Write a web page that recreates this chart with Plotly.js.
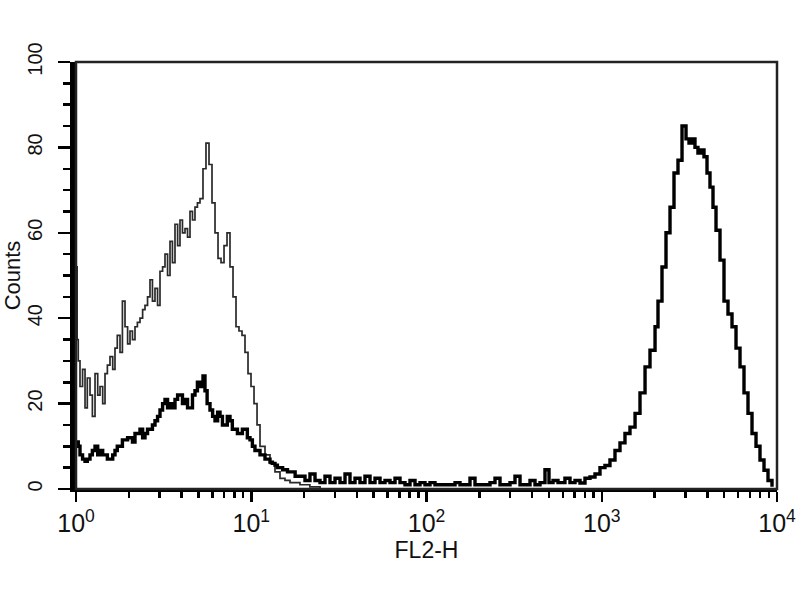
<!DOCTYPE html>
<html>
<head>
<meta charset="utf-8">
<script src="https://cdn.plot.ly/plotly-3.0.1.min.js"></script>
<style>html,body{margin:0;padding:0;background:#fff;}#chart{width:800px;height:600px;}</style>
</head>
<body>
<div id="chart"></div>
<script>
// FL2-H values (x) and counts (y) for the isotype control (thin line)
const isoX = [1.00,1.015,1.03,1.054,1.09,1.126,1.16,1.202,1.24,1.284,1.33,1.371,1.42,1.464,1.51,1.563,1.62,1.669,1.72,1.783,1.84,1.904,1.97,2.033,2.10,2.171,2.24,2.318,2.40,2.476,2.56,2.644,2.73,2.823,2.92,3.015,3.12,3.220,3.33,3.439,3.55,3.672,3.80,3.921,4.05,4.188,4.33,4.472,4.62,4.775,4.93,5.100,5.304,5.517,5.740,5.971,6.212,6.462,6.722,6.993,7.273,7.563,7.869,8.185,8.511,8.857,9.212,9.583,9.968,10.37,10.79,11.22,11.98,12.79,13.66,14.59,15.58,16.64,18.97,21.6,24.7];
const isoY = [52,35,30,24,28,19,26,22,17,27,22,24,20,27,29,31,28,33,36,32,44,38,34,37,35,38,39,40,42,43,45,49,44,47,43,51,52,55,50,58,53,62,57,63,60,61,59,65,63,66,67,68,75,81,76,67,60,54,53,57,60,52,45,38,37,36,32,27,24,20,15,10,8,6,4,2.5,2,1.5,1,0.5,0];
// FL2-H values (x) and counts (y) for the stained sample (thick line)
const stainX = [1.00,1.03,1.054,1.09,1.126,1.16,1.202,1.24,1.284,1.33,1.371,1.42,1.464,1.51,1.563,1.62,1.669,1.72,1.783,1.84,1.904,1.97,2.033,2.10,2.171,2.24,2.318,2.40,2.476,2.56,2.644,2.73,2.823,2.92,3.015,3.12,3.220,3.33,3.439,3.55,3.672,3.80,3.921,4.05,4.188,4.33,4.472,4.62,4.775,4.93,5.100,5.304,5.445,5.60,5.816,6.02,6.212,6.43,6.634,6.85,7.085,7.30,7.563,7.80,8.078,8.34,8.627,8.90,9.212,9.50,9.838,10.15,10.50,10.85,11.22,11.6,11.98,12.4,12.79,13.2,13.66,14.1,14.59,15.1,15.58,16.1,16.64,17.8,18.97,20.26,21.63,23.11,24.68,26.35,28.14,30.06,32.10,34.28,36.60,39.09,41.74,44.57,47.61,50.84,54.30,57.98,61.91,66.13,70.61,75.40,80.51,85.99,91.81,98.04,104.7,111.8,119.4,127.5,136.2,145.5,155.3,165.9,177.1,189.1,202.0,215.7,230.3,246.0,262.7,280.5,299.5,319.9,341.7,364.8,389.6,416.0,444.3,474.3,500.0,527.2,562.7,616.6,658.9,703.7,751.6,802.3,857.0,915.3,977.3,1043,1114,1190,1271,1357,1449,1549,1653,1766,1885,2014,2094,2207,2326,2452,2584,2723,2871,3026,3147,3273,3404,3540,3683,3832,3987,4146,4313,4487,4729,4984,5253,5537,5836,6151,6482,6832,7201,7590,7998,8431,8886,9365,9740,10000];
const stainY = [11,10,8,7,6.5,7,8,9,10,8,9,8,8,7,7,8,9,10,10,11.5,11.5,12,12,11,13,13,14,12,13,14,14,15,16,17,18.5,20,21,19,20,19,21,22,22,20,21,19,19,22,23,25,24,26.5,23,20,18.5,17,16,18,17,15,15,17,16,14,14,13,13,14,14,12,11.5,10,9,9,8,8,7,7,6.3,6,5.6,5,5,4.5,4.5,4,4,3,3,2,3.5,2,1.5,3,1.5,2.5,1.5,3.5,1.5,2.5,1.5,3,1.5,2.5,1.5,2,1.5,2.5,1.5,1,2,1,1.5,1,1.5,1,1,1,1,1.5,1,1,2.5,1,1,1,1.5,2.5,1,1,1.5,3,1,1,2,1,1.5,4.5,1.5,2,1.5,2.5,1.5,2,1.4,2.5,2.8,3.5,5,5.5,6.8,9,10.8,13,14.5,17.7,22.5,28.6,32.5,38,44,52,60,66,74,77,85,82,81,82,80,78.7,79.4,77.8,74,70.7,66,60.6,53.6,44,41,38,33,28.6,22.5,17.7,13,10,6.8,4.4,2,0.5];

const yTicks = [0,20,40,60,80,100];
const yMinor = [5,10,15,25,30,35,45,50,55,65,70,75,85,90,95];
const xMajor = [1,10,100,1000,10000];
const xMajorText = ['10<sup>0</sup>','10<sup>1</sup>','10<sup>2</sup>','10<sup>3</sup>','10<sup>4</sup>'];

// unlabelled log minor ticks 2..9 in each decade
const xMinor = [];
xMajor.slice(0, -1).forEach(v => { for (let m = 2; m <= 9; m++) xMinor.push(v * m); });

const NARROW = '"Liberation Sans Narrow", "Liberation Sans", Arial, sans-serif';
const REG = '"Liberation Sans", Arial, sans-serif';

const traces = [
  {x: isoX, y: isoY, type: 'scatter', mode: 'lines', line: {shape: 'hv', color: '#2a2a2a', width: 1.7}, hoverinfo: 'skip'},
  {x: stainX, y: stainY, type: 'scatter', mode: 'lines', line: {shape: 'hv', color: '#000', width: 3.4}, hoverinfo: 'skip'}
];

const layout = {
  width: 800, height: 600,
  margin: {l: 76, r: 23, t: 62, b: 111},
  paper_bgcolor: '#fff', plot_bgcolor: '#fff',
  showlegend: false,
  font: {family: REG, color: '#111', size: 15},
  xaxis: {
    type: 'log', range: [0, 4],
    tickmode: 'array', tickvals: xMajor, ticktext: xMajorText,
    ticks: 'outside', ticklen: 10, tickwidth: 2.5, tickcolor: '#000',
    minor: {tickmode: 'array', tickvals: xMinor, ticks: 'outside', ticklen: 6, tickwidth: 2.5, tickcolor: '#000', showgrid: false},
    showgrid: false, zeroline: false,
    showline: true, linecolor: '#000', linewidth: 3,
    tickfont: {size: 25, family: NARROW, color: '#111'},
    ticklabelstandoff: 0,
    automargin: false,
    title: {text: 'FL2-H', font: {size: 23, family: REG, color: '#111'}, standoff: 0}
  },
  yaxis: {
    range: [0, 100],
    tickmode: 'array', tickvals: yTicks, ticktext: yTicks.map(String),
    ticks: 'outside', ticklen: 12, tickwidth: 2.5, tickcolor: '#000',
    minor: {tickmode: 'array', tickvals: yMinor, ticks: 'outside', ticklen: 7, tickwidth: 2.5, tickcolor: '#000', showgrid: false},
    tickangle: -90,
    showgrid: false, zeroline: false,
    showline: true, linecolor: '#000', linewidth: 6,
    tickfont: {size: 20, family: NARROW, color: '#111'},
    ticklabelstandoff: 8,
    automargin: false,
    title: {text: 'Counts', font: {size: 22, family: REG, color: '#111'}, standoff: 4}
  },
  shapes: [
    {type: 'rect', xref: 'paper', yref: 'paper', x0: 0, x1: 1, y0: 0, y1: 1, line: {color: '#222', width: 2.5}}
  ]
};

Plotly.newPlot('chart', traces, layout, {staticPlot: true, displayModeBar: false});
</script>
</body>
</html>
